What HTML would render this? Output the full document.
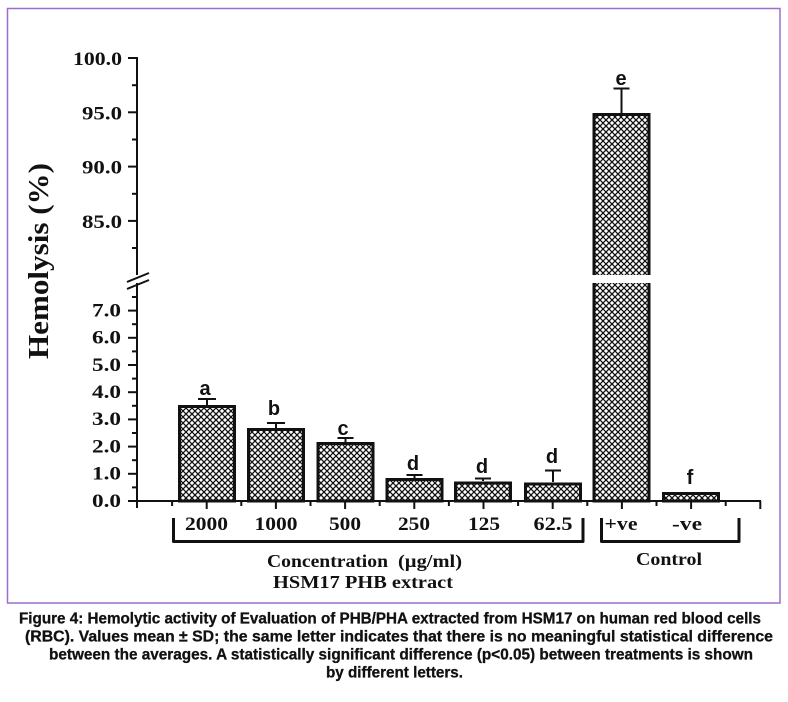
<!DOCTYPE html>
<html><head><meta charset="utf-8"><style>
html,body{margin:0;padding:0;background:#fff;}
svg{display:block;}
.t{font-family:"Liberation Serif",serif;font-weight:bold;fill:#111;}
.s{font-family:"Liberation Sans",sans-serif;font-weight:bold;fill:#111;}
</style></head><body>
<svg width="788" height="702" viewBox="0 0 788 702" xmlns="http://www.w3.org/2000/svg">
<defs>
<pattern id="h" patternUnits="userSpaceOnUse" width="6" height="6">
<rect width="6" height="6" fill="#fff"/>
<path d="M-1,-1 L7,7 M7,-1 L-1,7" stroke="#111" stroke-width="1.3"/>
</pattern>
</defs>
<rect width="788" height="702" fill="#fff"/>
<rect x="7.5" y="8.5" width="772.5" height="594.5" fill="none" stroke="#9b6fcc" stroke-width="1.5"/>

<!-- y axis -->
<g stroke="#111" stroke-width="2" fill="none">
<line x1="137" y1="57" x2="137" y2="275"/>
<line x1="137" y1="283" x2="137" y2="508"/>
<line x1="127" y1="282" x2="149" y2="273"/>
<line x1="127" y1="289" x2="149" y2="280"/>
<!-- upper ticks -->
<line x1="128" y1="58" x2="137" y2="58"/>
<line x1="128" y1="112.3" x2="137" y2="112.3"/>
<line x1="128" y1="166.6" x2="137" y2="166.6"/>
<line x1="128" y1="220.9" x2="137" y2="220.9"/>
<line x1="132" y1="85.2" x2="137" y2="85.2"/>
<line x1="132" y1="139.5" x2="137" y2="139.5"/>
<line x1="132" y1="193.8" x2="137" y2="193.8"/>
<line x1="132" y1="248" x2="137" y2="248"/>
<!-- lower ticks -->
<line x1="128" y1="501" x2="137" y2="501"/>
<line x1="128" y1="473.8" x2="137" y2="473.8"/>
<line x1="128" y1="446.6" x2="137" y2="446.6"/>
<line x1="128" y1="419.4" x2="137" y2="419.4"/>
<line x1="128" y1="392.2" x2="137" y2="392.2"/>
<line x1="128" y1="365" x2="137" y2="365"/>
<line x1="128" y1="337.8" x2="137" y2="337.8"/>
<line x1="128" y1="310.6" x2="137" y2="310.6"/>
<line x1="132" y1="487.4" x2="137" y2="487.4"/>
<line x1="132" y1="460.2" x2="137" y2="460.2"/>
<line x1="132" y1="433" x2="137" y2="433"/>
<line x1="132" y1="405.8" x2="137" y2="405.8"/>
<line x1="132" y1="378.6" x2="137" y2="378.6"/>
<line x1="132" y1="351.4" x2="137" y2="351.4"/>
<line x1="132" y1="324.2" x2="137" y2="324.2"/>
<line x1="132" y1="297" x2="137" y2="297"/>
</g>

<!-- y tick labels -->
<g class="t" font-size="19" text-anchor="end">
<text x="122" y="65" textLength="49" lengthAdjust="spacingAndGlyphs">100.0</text>
<text x="122" y="119.5" textLength="40" lengthAdjust="spacingAndGlyphs">95.0</text>
<text x="122" y="173.5" textLength="40" lengthAdjust="spacingAndGlyphs">90.0</text>
<text x="122" y="228" textLength="40" lengthAdjust="spacingAndGlyphs">85.0</text>
<text x="121" y="316.5" textLength="29" lengthAdjust="spacingAndGlyphs">7.0</text>
<text x="121" y="343.5" textLength="29" lengthAdjust="spacingAndGlyphs">6.0</text>
<text x="121" y="371" textLength="29" lengthAdjust="spacingAndGlyphs">5.0</text>
<text x="121" y="398" textLength="29" lengthAdjust="spacingAndGlyphs">4.0</text>
<text x="121" y="425" textLength="29" lengthAdjust="spacingAndGlyphs">3.0</text>
<text x="121" y="452.5" textLength="29" lengthAdjust="spacingAndGlyphs">2.0</text>
<text x="121" y="479.5" textLength="29" lengthAdjust="spacingAndGlyphs">1.0</text>
<text x="121" y="507" textLength="29" lengthAdjust="spacingAndGlyphs">0.0</text>
</g>

<text class="t" font-size="29" text-anchor="middle" transform="translate(48,261) rotate(-90)" textLength="196" lengthAdjust="spacingAndGlyphs">Hemolysis (%)</text>

<!-- bars -->
<g stroke="#111" stroke-width="3" fill="url(#h)">
<rect x="179.5" y="406.5" width="55" height="94.5"/>
<rect x="248.5" y="429.5" width="55" height="71.5"/>
<rect x="318" y="443.5" width="55" height="57.5"/>
<rect x="387" y="479.5" width="55" height="21.5"/>
<rect x="455.5" y="483" width="55" height="18"/>
<rect x="525.5" y="484" width="55" height="17"/>
<rect x="594" y="114.5" width="55" height="386.5"/>
<rect x="663.5" y="493.5" width="55" height="7.5"/>
</g>
<!-- +ve break gap -->
<rect x="590" y="275" width="63" height="8" fill="#fff"/>

<!-- error bars -->
<g stroke="#111" stroke-width="2" fill="none">
<path d="M207,405 V399 M198,399 H216"/>
<path d="M276,428 V423 M267,423 H285"/>
<path d="M345.5,442 V438 M337.5,438 H353.5"/>
<path d="M414.5,478 V475 M406.5,475 H422.5"/>
<path d="M483,481 V478.5 M475,478.5 H491"/>
<path d="M553,482 V470.5 M545,470.5 H561"/>
<path d="M621.5,113 V88.5 M613.5,88.5 H629.5"/>
</g>

<!-- x axis -->
<g stroke="#111" stroke-width="2" fill="none">
<line x1="136" y1="501" x2="761" y2="501"/>
<path d="M172.1,501 v5 M206.7,501 v8 M241.3,501 v5 M275.9,501 v8 M310.5,501 v5 M345.1,501 v8 M379.7,501 v5 M414.3,501 v8 M448.9,501 v5 M483.5,501 v8 M518.1,501 v5 M552.7,501 v8 M587.3,501 v5 M621.9,501 v8 M656.5,501 v5 M691.1,501 v8 M725.7,501 v5 M760.3,501 v8"/>
</g>

<!-- letters -->
<g class="s" font-size="20" text-anchor="middle">
<text x="205" y="395">a</text>
<text x="274" y="415">b</text>
<text x="343" y="435">c</text>
<text x="413" y="470">d</text>
<text x="482" y="473">d</text>
<text x="552" y="463">d</text>
<text x="621" y="85">e</text>
<text x="690" y="484">f</text>
</g>

<!-- x labels -->
<g class="t" font-size="19" text-anchor="middle">
<text x="206.5" y="530" textLength="43" lengthAdjust="spacingAndGlyphs">2000</text>
<text x="276" y="530" textLength="43" lengthAdjust="spacingAndGlyphs">1000</text>
<text x="345" y="530" textLength="32" lengthAdjust="spacingAndGlyphs">500</text>
<text x="414" y="530" textLength="32" lengthAdjust="spacingAndGlyphs">250</text>
<text x="484" y="530" textLength="32" lengthAdjust="spacingAndGlyphs">125</text>
<text x="553" y="530" textLength="39" lengthAdjust="spacingAndGlyphs">62.5</text>
<text x="621" y="530" textLength="33" lengthAdjust="spacingAndGlyphs">+ve</text>
<text x="687" y="530" textLength="30" lengthAdjust="spacingAndGlyphs">-ve</text>
</g>

<!-- brackets -->
<g stroke="#111" stroke-width="3" fill="none" stroke-linejoin="round">
<path d="M173.5,518 V541.5 H583 V518"/>
<path d="M601.5,518 V541.5 H739 V518"/>
</g>

<g class="t" font-size="18">
<text x="267" y="567" textLength="121" lengthAdjust="spacingAndGlyphs">Concentration</text>
<text x="398" y="567" textLength="64" lengthAdjust="spacingAndGlyphs">(µg/ml)</text>
<text x="273" y="588" textLength="180" lengthAdjust="spacingAndGlyphs">HSM17 PHB extract</text>
<text x="636" y="565" textLength="66" lengthAdjust="spacingAndGlyphs">Control</text>
</g>

<!-- caption -->
<g class="s" font-size="15.5" stroke="#111" stroke-width="0.3">
<text x="19" y="623.5" textLength="742" lengthAdjust="spacingAndGlyphs">Figure 4: Hemolytic activity of Evaluation of PHB/PHA extracted from HSM17 on human red blood cells</text>
<text x="25" y="641.5" textLength="748" lengthAdjust="spacingAndGlyphs">(RBC).  Values mean ± SD; the same letter indicates that there is no meaningful statistical difference</text>
<text x="49" y="659.5" textLength="704" lengthAdjust="spacingAndGlyphs">between the averages. A statistically significant difference (p&lt;0.05) between treatments is shown</text>
<text x="326" y="677.5" textLength="137" lengthAdjust="spacingAndGlyphs">by different letters.</text>
</g>
</svg>
</body></html>
